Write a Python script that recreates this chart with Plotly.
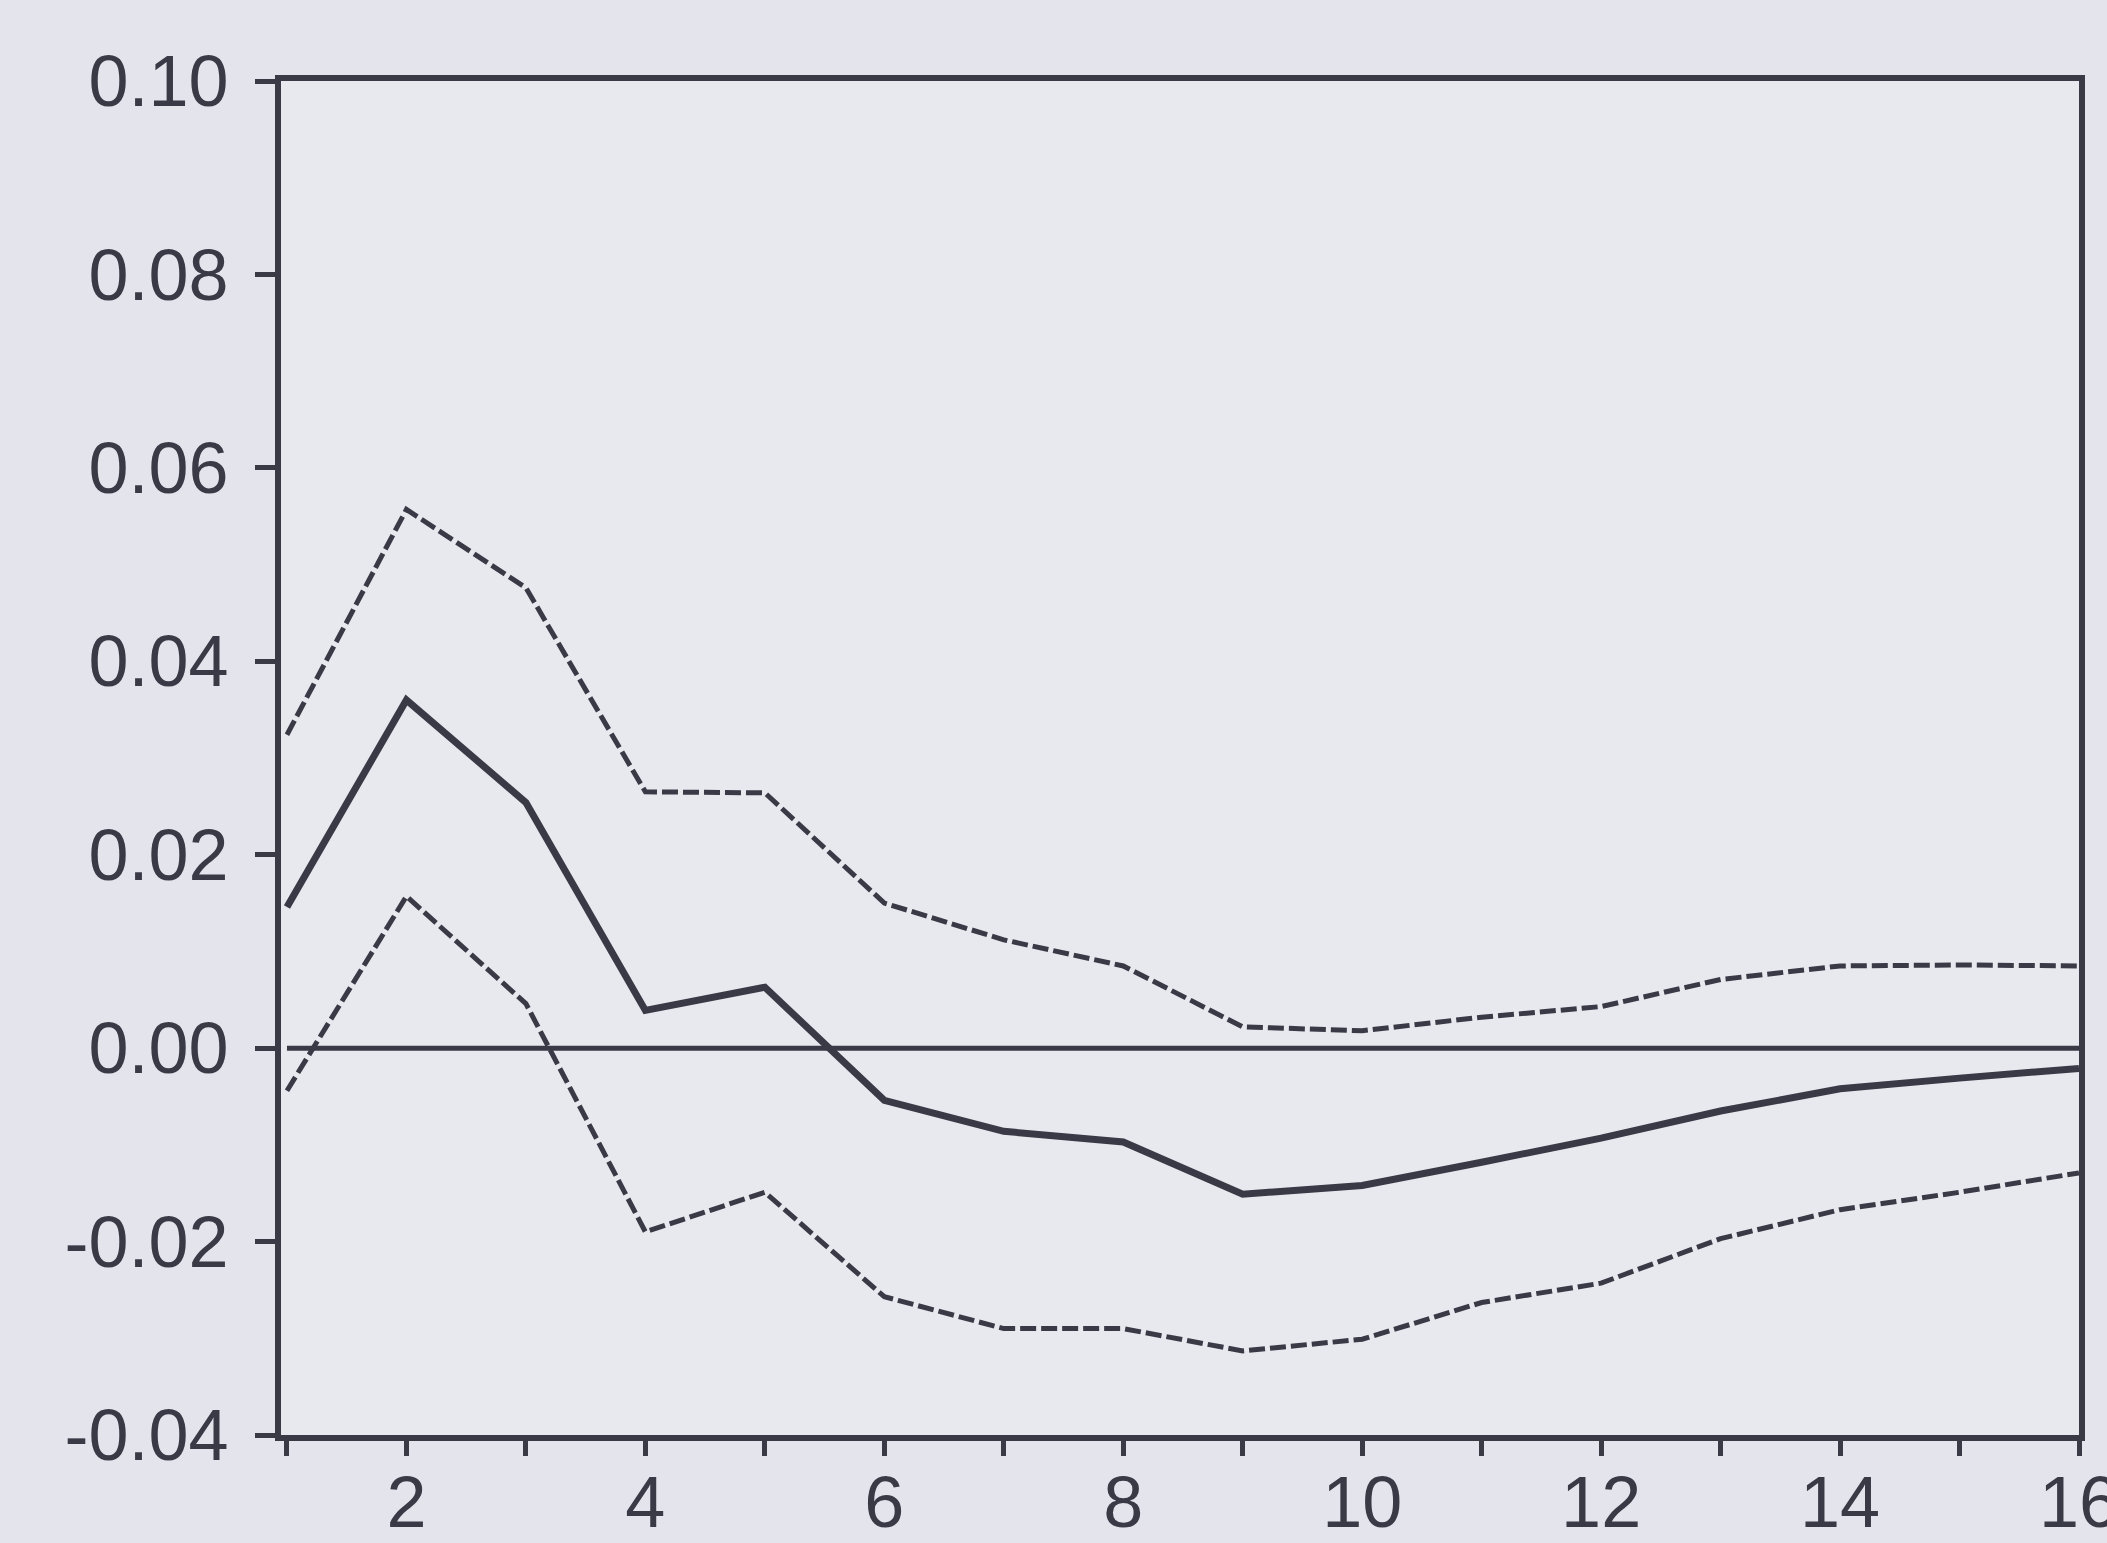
import plotly.graph_objects as go

periods = list(range(1, 17))
response = [0.0146, 0.0360, 0.0254, 0.0039, 0.0063, -0.0054, -0.0086, -0.0097,
            -0.0151, -0.0142, -0.0118, -0.0093, -0.0065, -0.0042, -0.0031, -0.0021]
upper = [0.0324, 0.0557, 0.0476, 0.0265, 0.0264, 0.0150, 0.0112, 0.0085,
         0.0022, 0.0018, 0.0032, 0.0043, 0.0071, 0.0085, 0.0086, 0.0085]
lower = [-0.0044, 0.0157, 0.0046, -0.0190, -0.0149, -0.0257, -0.0290, -0.0290,
         -0.0313, -0.0301, -0.0263, -0.0243, -0.0197, -0.0167, -0.0149, -0.0129]

y_ticks = [0.10, 0.08, 0.06, 0.04, 0.02, 0.00, -0.02, -0.04]
y_labels = ["0.10", "0.08", "0.06", "0.04", "0.02", "0.00", "-0.02", "-0.04"]
x_ticks = list(range(1, 17))
x_labels = [str(v) if v % 2 == 0 else "" for v in x_ticks]

ink = "#393a46"
x_range = [0.95, 16]

fig = go.Figure()
fig.add_trace(go.Scatter(x=periods, y=[0] * len(periods), mode="lines",
                         line=dict(color=ink, width=5), hoverinfo="skip",
                         xaxis="x2"))
fig.add_trace(go.Scatter(x=periods, y=upper, mode="lines",
                         line=dict(color=ink, width=5, dash="16px,5px")))
fig.add_trace(go.Scatter(x=periods, y=lower, mode="lines",
                         line=dict(color=ink, width=5, dash="16px,5px")))
fig.add_trace(go.Scatter(x=periods, y=response, mode="lines",
                         line=dict(color=ink, width=7)))

fig.update_layout(
    width=2107, height=1543,
    margin=dict(l=281, r=28, t=81, b=108, autoexpand=False),
    paper_bgcolor="#e4e5ec",
    plot_bgcolor="#e8e8ef",
    showlegend=False,
    font=dict(family="Liberation Sans, Arial, sans-serif", size=72, color=ink),
    xaxis=dict(range=x_range, tickvals=x_ticks, ticktext=x_labels,
               showgrid=False, zeroline=False, showline=True, linecolor=ink,
               linewidth=6, mirror=True, ticks="", ticklabeloverflow="allow",
               automargin=False),
    xaxis2=dict(range=x_range, tickvals=x_ticks, showticklabels=False,
                overlaying="x", side="bottom", anchor="y",
                showgrid=False, zeroline=False, showline=False,
                ticks="outside", ticklen=20, tickwidth=5, tickcolor=ink,
                automargin=False),
    yaxis=dict(range=[-0.04, 0.10], tickvals=y_ticks, ticktext=y_labels,
               showgrid=False, zeroline=False, showline=True, linecolor=ink,
               linewidth=6, mirror=True, ticks="outside", ticklen=20,
               tickwidth=5, tickcolor=ink, ticklabelstandoff=12,
               automargin=False),
)

fig.write_html(
    "out.html",
    config={"displayModeBar": False},
    post_script="document.body.style.margin='0';document.body.style.overflow='hidden';",
)
